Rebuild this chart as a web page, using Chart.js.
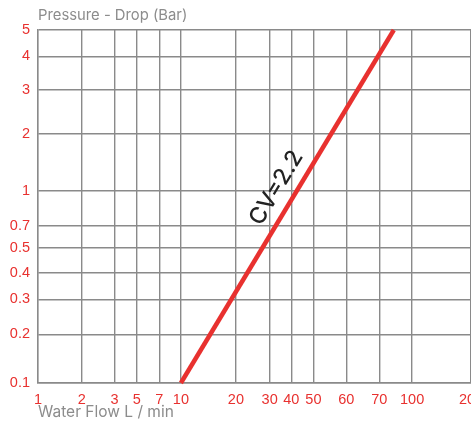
<!DOCTYPE html>
<html>
<head>
<meta charset="utf-8">
<script src="https://cdn.jsdelivr.net/npm/chart.js@4/dist/chart.umd.min.js"></script>
<style>
  html, body { margin: 0; padding: 0; background: #fff; }
  canvas { display: block; }
</style>
</head>
<body>
<canvas id="cvChart" width="471" height="428"></canvas>
<script>
// tick labels of the two axes (values as printed)
const flowTicks = [1, 2, 3, 5, 7, 10, 20, 30, 40, 50, 60, 70, 100, 200];
const pressureTicks = [0.1, 0.2, 0.3, 0.4, 0.5, 0.7, 1, 2, 3, 4, 5];

// CV=2.2 curve: flow (L/min) and pressure drop (bar)
const curveFlow = [10, 82];
const curvePressure = [0.1, 5];
const curveLabel = "CV=2.2";

const xTitle = "Water Flow L / min";
const yTitle = "Pressure - Drop (Bar)";

// the printed grid is not a true log grid, so each tick gets its own spot (0..1 of the axis)
const gridStops = {
    x: [0, 0.101, 0.177, 0.228, 0.280, 0.330, 0.457, 0.535, 0.585, 0.636, 0.712, 0.788, 0.864, 1],
    y: [0, 0.138, 0.237, 0.312, 0.382, 0.446, 0.544, 0.705, 0.831, 0.925, 1]
};
const tickSets = { x: flowTicks, y: pressureTicks };

class WarpScale extends Chart.Scale {
    parse(raw) { return +raw; }
    determineDataLimits() {
        const t = tickSets[this.id];
        this.min = t[0];
        this.max = t[t.length - 1];
    }
    buildTicks() {
        return tickSets[this.id].map(v => ({ value: v }));
    }
    getLabelForValue(v) { return String(v); }
    toDecimal(v) {
        const t = tickSets[this.id], s = gridStops[this.id];
        if (v <= t[0]) return s[0];
        for (let i = 1; i < t.length; i++) {
            if (v <= t[i]) {
                const f = Math.log(v / t[i - 1]) / Math.log(t[i] / t[i - 1]);
                return s[i - 1] + f * (s[i] - s[i - 1]);
            }
        }
        return s[s.length - 1];
    }
    getPixelForValue(v) { return this.getPixelForDecimal(this.toDecimal(v)); }
    getValueForPixel(p) {
        const d = this.getDecimalForPixel(p);
        const t = tickSets[this.id], s = gridStops[this.id];
        for (let i = 1; i < s.length; i++) {
            if (d <= s[i]) {
                const f = (d - s[i - 1]) / (s[i] - s[i - 1]);
                return t[i - 1] * Math.pow(t[i] / t[i - 1], f);
            }
        }
        return t[t.length - 1];
    }
}
WarpScale.id = "warp";
WarpScale.defaults = {};
Chart.register(WarpScale);

const red = "#e8312f";
const gridColor = "#8a8a8a";
const greyText = "#8c8c8c";

const topTitle = {
    id: "topTitle",
    afterDraw(chart) {
        const ctx = chart.ctx;
        ctx.save();
        ctx.font = "14.8px Inter";
        ctx.fillStyle = greyText;
        ctx.textAlign = "left";
        ctx.textBaseline = "middle";
        ctx.fillText(yTitle, chart.chartArea.left, 16);
        ctx.restore();
    }
};

const curveText = {
    id: "curveText",
    afterDatasetsDraw(chart) {
        const pts = chart.getDatasetMeta(0).data;
        const a = pts[0], b = pts[1];
        const ang = Math.atan2(b.y - a.y, b.x - a.x);
        const t = 0.525;
        const ctx = chart.ctx;
        ctx.save();
        ctx.translate(a.x + (b.x - a.x) * t, a.y + (b.y - a.y) * t);
        ctx.rotate(ang);
        ctx.font = "500 23px Inter";
        ctx.fillStyle = "#222";
        ctx.textAlign = "center";
        ctx.textBaseline = "middle";
        ctx.fillText(curveLabel, 0, -19);
        ctx.restore();
    }
};

new Chart(document.getElementById("cvChart"), {
    type: "line",
    data: {
        datasets: [{
            data: curveFlow.map((x, i) => ({ x: x, y: curvePressure[i] })),
            borderColor: red,
            borderWidth: 4.5,
            pointRadius: 0,
            borderCapStyle: "butt",
            tension: 0
        }]
    },
    options: {
        responsive: false,
        animation: false,
        events: [],
        layout: { padding: { top: 30, left: 0, right: 0, bottom: 0 } },
        plugins: {
            legend: { display: false },
            tooltip: { enabled: false }
        },
        scales: {
            x: {
                type: "warp",
                position: "bottom",
                grid: { color: gridColor, lineWidth: 1.4, drawTicks: false },
                border: { color: gridColor, width: 1.4 },
                ticks: {
                    color: red,
                    font: { family: "Liberation Sans", size: 14.5 },
                    padding: 8,
                    autoSkip: false,
                    maxRotation: 0
                },
                title: {
                    display: true,
                    text: xTitle,
                    align: "start",
                    color: greyText,
                    font: { family: "Inter", size: 15.5 },
                    padding: { top: 0, bottom: 6 }
                },
                afterFit(s) {
                    s.height = 45;
                    s.paddingLeft = 0;
                    s.paddingRight = 0;
                }
            },
            y: {
                type: "warp",
                position: "left",
                grid: { color: gridColor, lineWidth: 1.4, drawTicks: false },
                border: { color: gridColor, width: 1.4 },
                ticks: {
                    color: red,
                    font: { family: "Liberation Sans", size: 14.5 },
                    padding: 8,
                    autoSkip: false
                },
                afterFit(s) {
                    s.width = 38;
                    s.paddingTop = 0;
                    s.paddingBottom = 0;
                }
            }
        }
    },
    plugins: [topTitle, curveText]
});
</script>
</body>
</html>
